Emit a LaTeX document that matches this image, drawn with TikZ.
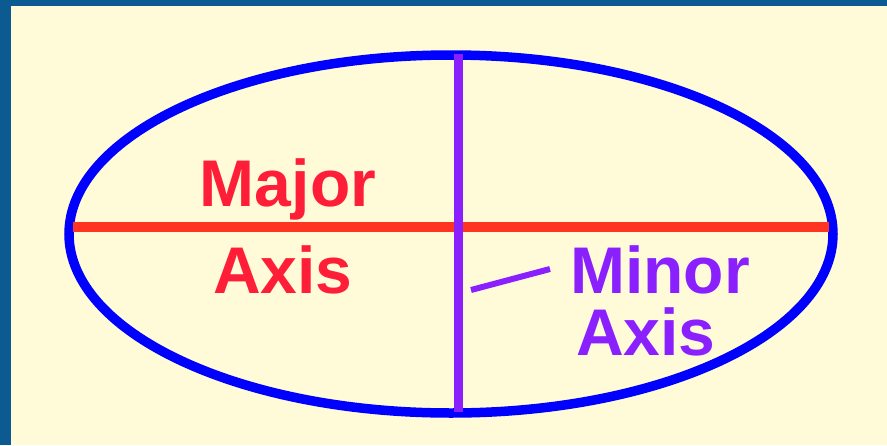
\documentclass[tikz,border=0pt]{standalone}
\usepackage{fontspec}
\setmainfont{Liberation Sans}
\usetikzlibrary{positioning}
\definecolor{frameblue}{RGB}{11,90,146}
\definecolor{paper}{RGB}{255,251,217}
\definecolor{ellblue}{RGB}{0,0,255}
\definecolor{majred}{RGB}{255,52,34}
\definecolor{txtred}{RGB}{255,30,55}
\definecolor{minpurple}{RGB}{139,32,255}
\tikzset{
  rim/.style={draw=ellblue, line width=9.5pt},
  majline/.style={draw=majred, line width=10pt},
  minline/.style={draw=minpurple, line width=9pt},
  pointer/.style={draw=minpurple, line width=6pt},
  lbl/.style={font=\fontsize{66}{62}\selectfont\bfseries, inner sep=0pt},
}

\begin{document}
\begin{tikzpicture}[x=1pt, y=-1pt]
    % frame and paper
    \fill[frameblue] (0,0) rectangle (887,445);
    \fill[paper] (11,6) rectangle (887,445);
    % ellipse and its axes
    \coordinate (ctr) at (451,234);
    \draw[rim] (ctr) ellipse [x radius=382, y radius=179];
    \coordinate (majL) at (73,227);
    \coordinate (majR) at (829,227);
    \coordinate (minT) at (458,54);
    \coordinate (minB) at (458,412);
    \draw[majline] (majL) -- (majR);
    \draw[minline] (minT) -- (minB);
    % labels
    \node[lbl, txtred, anchor=base] (majtop) at (288,206) {Major};
    \node[lbl, txtred, anchor=base] (majbot) at (283,293) {Axis};
    \node[lbl, minpurple, anchor=base west] (mintop) at (570,293) {Minor};
    \node[lbl, minpurple, anchor=base west] (minbot) at (576,355) {Axis};
    \coordinate (ptrtail) at (550,269);
    \coordinate (ptrhead) at (471,290);
    \draw[pointer] (ptrtail) -- (ptrhead);
\end{tikzpicture}
\end{document}
